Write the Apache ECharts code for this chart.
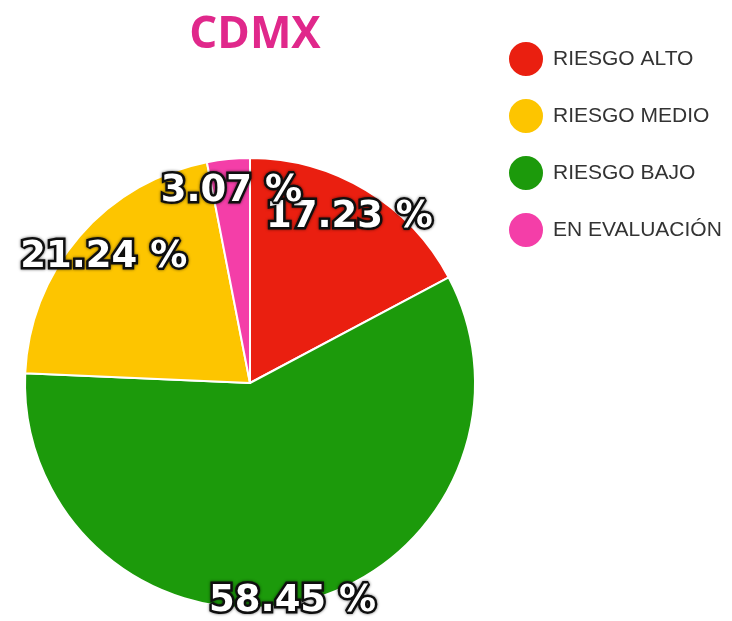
<!DOCTYPE html>
<html>
<head>
<meta charset="utf-8">
<script src="https://cdn.jsdelivr.net/npm/echarts@6/dist/echarts.min.js"></script>
<style>
  html, body { margin: 0; padding: 0; background: #fff; }
  #chart { width: 732px; height: 621px; }
</style>
</head>
<body>
<div id="chart"></div>
<script>
// slices in drawing order (clockwise from top)
const sliceNames = ["RIESGO ALTO", "RIESGO BAJO", "RIESGO MEDIO", "EN EVALUACIÓN"];
const sliceValues = [17.23, 58.45, 21.24, 3.07];
const sliceColors = ["#EA1F10", "#1C9A0B", "#FDC500", "#F43EA8"];
// legend order as shown
const legendNames = ["RIESGO ALTO", "RIESGO MEDIO", "RIESGO BAJO", "EN EVALUACIÓN"];

const chart = echarts.init(document.getElementById("chart"));

const pieData = sliceNames.map((name, i) => ({
  name: name,
  value: sliceValues[i],
  itemStyle: { color: sliceColors[i] },
}));

const options = {
  animation: false,
  title: {
    text: "CDMX",
    left: 250,
    top: 8,
    textAlign: "center",
    textStyle: {
      color: "#E0288B",
      fontFamily: "Open Sans",
      fontWeight: "bold",
      fontSize: 44,
    },
  },
  legend: {
    orient: "vertical",
    left: 502,
    top: 35,
    icon: "circle",
    itemWidth: 36,
    itemHeight: 36,
    itemGap: 19,
    data: legendNames,
    textStyle: {
      color: "#333",
      fontFamily: "Liberation Sans",
      fontSize: 21,
      padding: [0, 0, 0, 4],
    },
  },
  series: [
    {
      name: "CDMX",
      type: "pie",
      center: [250, 383],
      radius: [0, 225],
      startAngle: 90,
      clockwise: true,
      data: pieData,
      itemStyle: { borderColor: "#fff", borderWidth: 2 },
      label: { show: false },
      labelLine: { show: false },
      emphasis: { scale: false },
    },
    {
      // transparent ring only used to place the percentage labels
      name: "labels",
      type: "pie",
      center: [250, 383],
      radius: [164, 216],
      startAngle: 90,
      clockwise: true,
      silent: true,
      data: pieData.map((d) => ({
        name: d.name,
        value: d.value,
        itemStyle: { color: "transparent" },
      })),
      label: {
        show: true,
        position: "inside",
        formatter: "{c} %",
        color: "#fff",
        fontFamily: "DejaVu Sans",
        fontWeight: "bold",
        fontSize: 37,
        textBorderColor: "#111",
        textBorderWidth: 5,
        textShadowColor: "rgba(0,0,0,0.6)",
        textShadowBlur: 3,
      },
      labelLine: { show: false },
      labelLayout: (p) => (p.dataIndex === 1 ? { dy: 30 } : {}),
    },
  ],
};

chart.setOption(options);
</script>
</body>
</html>
